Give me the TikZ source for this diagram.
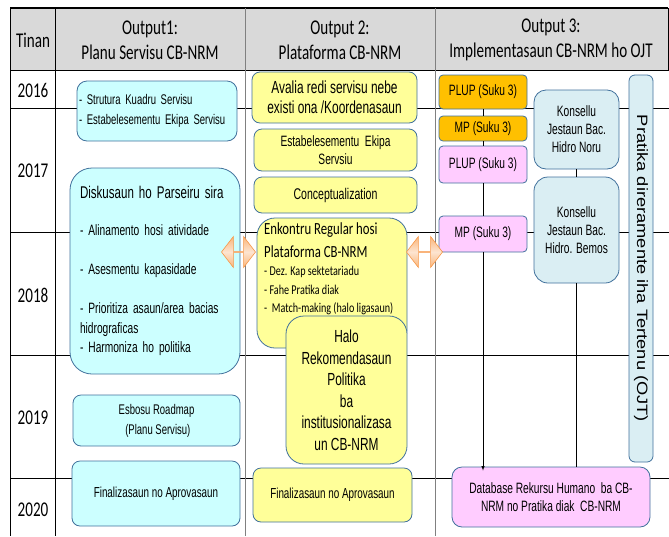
\documentclass[tikz,border=0pt]{standalone}
\usepackage{fontspec}
\usepackage{tikz}
\usetikzlibrary{shapes,arrows,positioning}

\newfontfamily\calfont{Carlito}[FakeStretch=0.75]
\newfontfamily\hdfont{Carlito}[FakeStretch=0.72]
\newfontfamily\narfont{Liberation Sans}[FakeStretch=0.68]
\newfontfamily\tallfont{Liberation Sans}[FakeStretch=1.22]
\newcommand{\fs}[2]{\fontsize{#1}{#2}\selectfont}

\definecolor{headgray}{HTML}{D9D9D9}
\definecolor{edgeblue}{HTML}{41719C}
\definecolor{cyanbox}{HTML}{CCFFFF}
\definecolor{yellowbox}{HTML}{FFFF99}
\definecolor{orangebox}{HTML}{FFC000}
\definecolor{pinkbox}{HTML}{FFCCFF}
\definecolor{bluebox}{HTML}{DAEEF3}
\definecolor{arrowedge}{HTML}{F79646}
\definecolor{arrowmid}{HTML}{FDE4D0}
\definecolor{arrowside}{HTML}{FAB57A}

\begin{document}
\begin{tikzpicture}[x=1pt,y=-1pt]
            \tikzstyle{box}=[draw=edgeblue,line width=0.8pt,inner sep=2pt,rounded corners=8pt,align=center,font=\narfont\fs{15}{18}]
            \tikzstyle{rule}=[line width=0.8pt]

            \tikzstyle{C}=[box,fill=cyanbox]                     % output 1
            \tikzstyle{Y}=[box,fill=yellowbox]                   % output 2
            \tikzstyle{O}=[box,fill=orangebox,rounded corners=4pt] % suku (orange)
            \tikzstyle{K}=[box,fill=pinkbox,rounded corners=4pt]   % suku (pink)
            \tikzstyle{B}=[box,fill=bluebox,rounded corners=12pt]  % konsellu
            \tikzstyle{head}=[font=\hdfont\fs{21}{25},align=center]
            \tikzstyle{swap}=[double arrow,draw=arrowedge,line width=0.6pt,top color=arrowside,bottom color=arrowside,middle color=arrowmid,inner sep=0pt,minimum width=31pt,double arrow head extend=8pt,double arrow tip angle=105]

            \useasboundingbox (0,0) rectangle (669,536);

            % table
            \fill[headgray] (10,8) rectangle (668,70);
            \draw[line width=1.2pt] (10,8) -- (668,8);
            \draw[rule] (10,70) -- (669,70);
            \draw[rule] (668,8) -- (668,70);
            \foreach \y in {108,232,355,478}
                \draw[rule] (10,\y) -- (669,\y);
            \draw[rule] (10,8) -- (10,536);
            \draw[rule] (55,8) -- (55,536);
            \draw[rule,gray] (245,8) -- (245,536);
            \draw[rule,gray] (435,8) -- (435,536);

            \node[head] (tinan) at (33,40) {Tinan};
            \node[head] (h1) at (150,40) {Output1:\\Planu Servisu CB-NRM};
            \node[head] (h2) at (340,40) {Output 2:\\Plataforma CB-NRM};
            \node[head] (h3) at (551,40) {Output 3:\\Implementasaun CB-NRM ho OJT};

            \node[head] (y2016) at (33,90) {2016};
            \node[head] (y2017) at (33,171) {2017};
            \node[head] (y2018) at (33,295) {2018};
            \node[head] (y2019) at (33,418) {2019};
            \node[head] (y2020) at (33,510) {2020};

            % output 1
            \node[C,rounded corners=10pt,minimum width=160pt,minimum height=60pt,text width=156pt,align=left,font=\narfont\fs{14}{20}] (kuadru) at (157,111) {- Strutura Kuadru Servisu\\- Estabelesementu Ekipa Servisu};
            \node[C,rounded corners=22pt,minimum width=170pt,minimum height=206pt,inner xsep=10pt,text width=150pt,align=left,font=\narfont\fs{15}{19.5}] (diskusaun) at (155,271)
                {{\fs{17}{19.5}Diskusaun ho Parseiru sira}\\[17.5pt]- Alinamento hosi atividade\\[19.5pt]- Asesmentu kapasidade\\[19.5pt]- Prioritiza asaun/area bacias\\hidrograficas\\- Harmoniza ho politika};
            \node[C,minimum width=167pt,minimum height=51pt,font=\narfont\fs{14}{20}] (roadmap) at (156.5,420.5) {Esbosu Roadmap\\\ (Planu Servisu)};
            \node[C,minimum width=168pt,minimum height=65pt,font=\narfont\fs{14.5}{18}] (final1) at (156,493.5) {Finalizasaun no Aprovasaun};

            % output 2
            \node[Y,minimum width=165pt,minimum height=51pt,font=\narfont\fs{17.5}{20}] (avalia) at (334.5,97.5) {Avalia redi servisu nebe\\existi ona /Koordenasaun};
            \node[Y,minimum width=163pt,minimum height=42pt,font=\narfont\fs{15}{18}] (ekipa) at (335.5,150) {Estabelesementu\ \ Ekipa\\Servsiu};
            \node[Y,minimum width=163pt,minimum height=36pt,font=\narfont\fs{15.5}{18}] (concept) at (335.5,195) {Conceptualization};
            \node[Y,rounded corners=18pt,minimum width=150pt,minimum height=130pt] (enkontru) at (332,283) {};
            \node[anchor=north west,inner sep=0pt,align=left,font=\calfont\fs{13.5}{18.5}] (enkontrutxt) at (264,222)
                {\fs{17}{18.5}Enkontru Regular hosi\\[4.5pt]\fs{17}{18.5}Plataforma CB-NRM\\- Dez. Kap sektetariadu\\- Fahe Pratika diak\\-\ \ Match-making (halo ligasaun)};
            \node[Y,rounded corners=18pt,minimum width=121pt,minimum height=148pt,font=\narfont\fs{17.5}{21.5}] (halo) at (346.5,390) {Halo\\Rekomendasaun\\Politika\\ba\\institusionalizasa\\un CB-NRM};
            \node[Y,minimum width=159pt,minimum height=54pt,font=\narfont\fs{14.5}{18}] (final2) at (332.5,495) {Finalizasaun no Aprovasaun};

            % output 3
            \node[O,minimum width=88pt,minimum height=34pt] (plup1) at (483,92) {PLUP (Suku 3)};
            \node[O,minimum width=88pt,minimum height=25pt] (mp1) at (483,128.5) {MP (Suku 3)};
            \node[K,minimum width=88pt,minimum height=37pt] (plup2) at (483,164.5) {PLUP (Suku 3)};
            \node[K,minimum width=88pt,minimum height=36pt] (mp2) at (483,234) {MP (Suku 3)};

            \node[B,minimum width=85pt,minimum height=79pt] (noru) at (576.5,129.5) {Konsellu\\Jestaun Bac.\\Hidro Noru};
            \node[B,rounded corners=14pt,minimum width=85pt,minimum height=106pt] (bemos) at (576.5,230) {Konsellu\\Jestaun Bac.\\Hidro. Bemos};
            \node[B,rounded corners=6pt,minimum width=24pt,minimum height=387pt] (ojt) at (641,268.5) {};
            \node[rotate=-90,inner sep=0pt,font=\tallfont\fs{15}{18}] (ojttxt) at (ojt.center) {Pratika direramente iha Tertenu (OJT)};

            \node[K,rounded corners=10pt,minimum width=198pt,minimum height=60pt] (db) at (551,497) {Database Rekursu Humano\ \ ba CB-\\NRM no Pratika diak\ \ CB-NRM};

            \path[draw,line width=0.6pt] (plup1) edge (mp1);
            \path[draw,line width=0.6pt] (mp1) edge (plup2);
            \path[draw,line width=0.6pt] (plup2) edge (mp2);
            \draw[->,>=latex,line width=0.6pt] (mp2.south) -- ([yshift=-4pt]mp2.south |- db.north);
            \path[draw,line width=0.6pt] (noru) edge (bemos);
            \draw[line width=0.6pt] (bemos.south) -- (bemos.south |- db.north);

            % swap arrows
            \node[swap,minimum height=34pt] (swapleft) at (238.5,252) {};
            \node[swap,minimum height=36pt] (swapright) at (424.5,252) {};
\end{tikzpicture}
\end{document}
